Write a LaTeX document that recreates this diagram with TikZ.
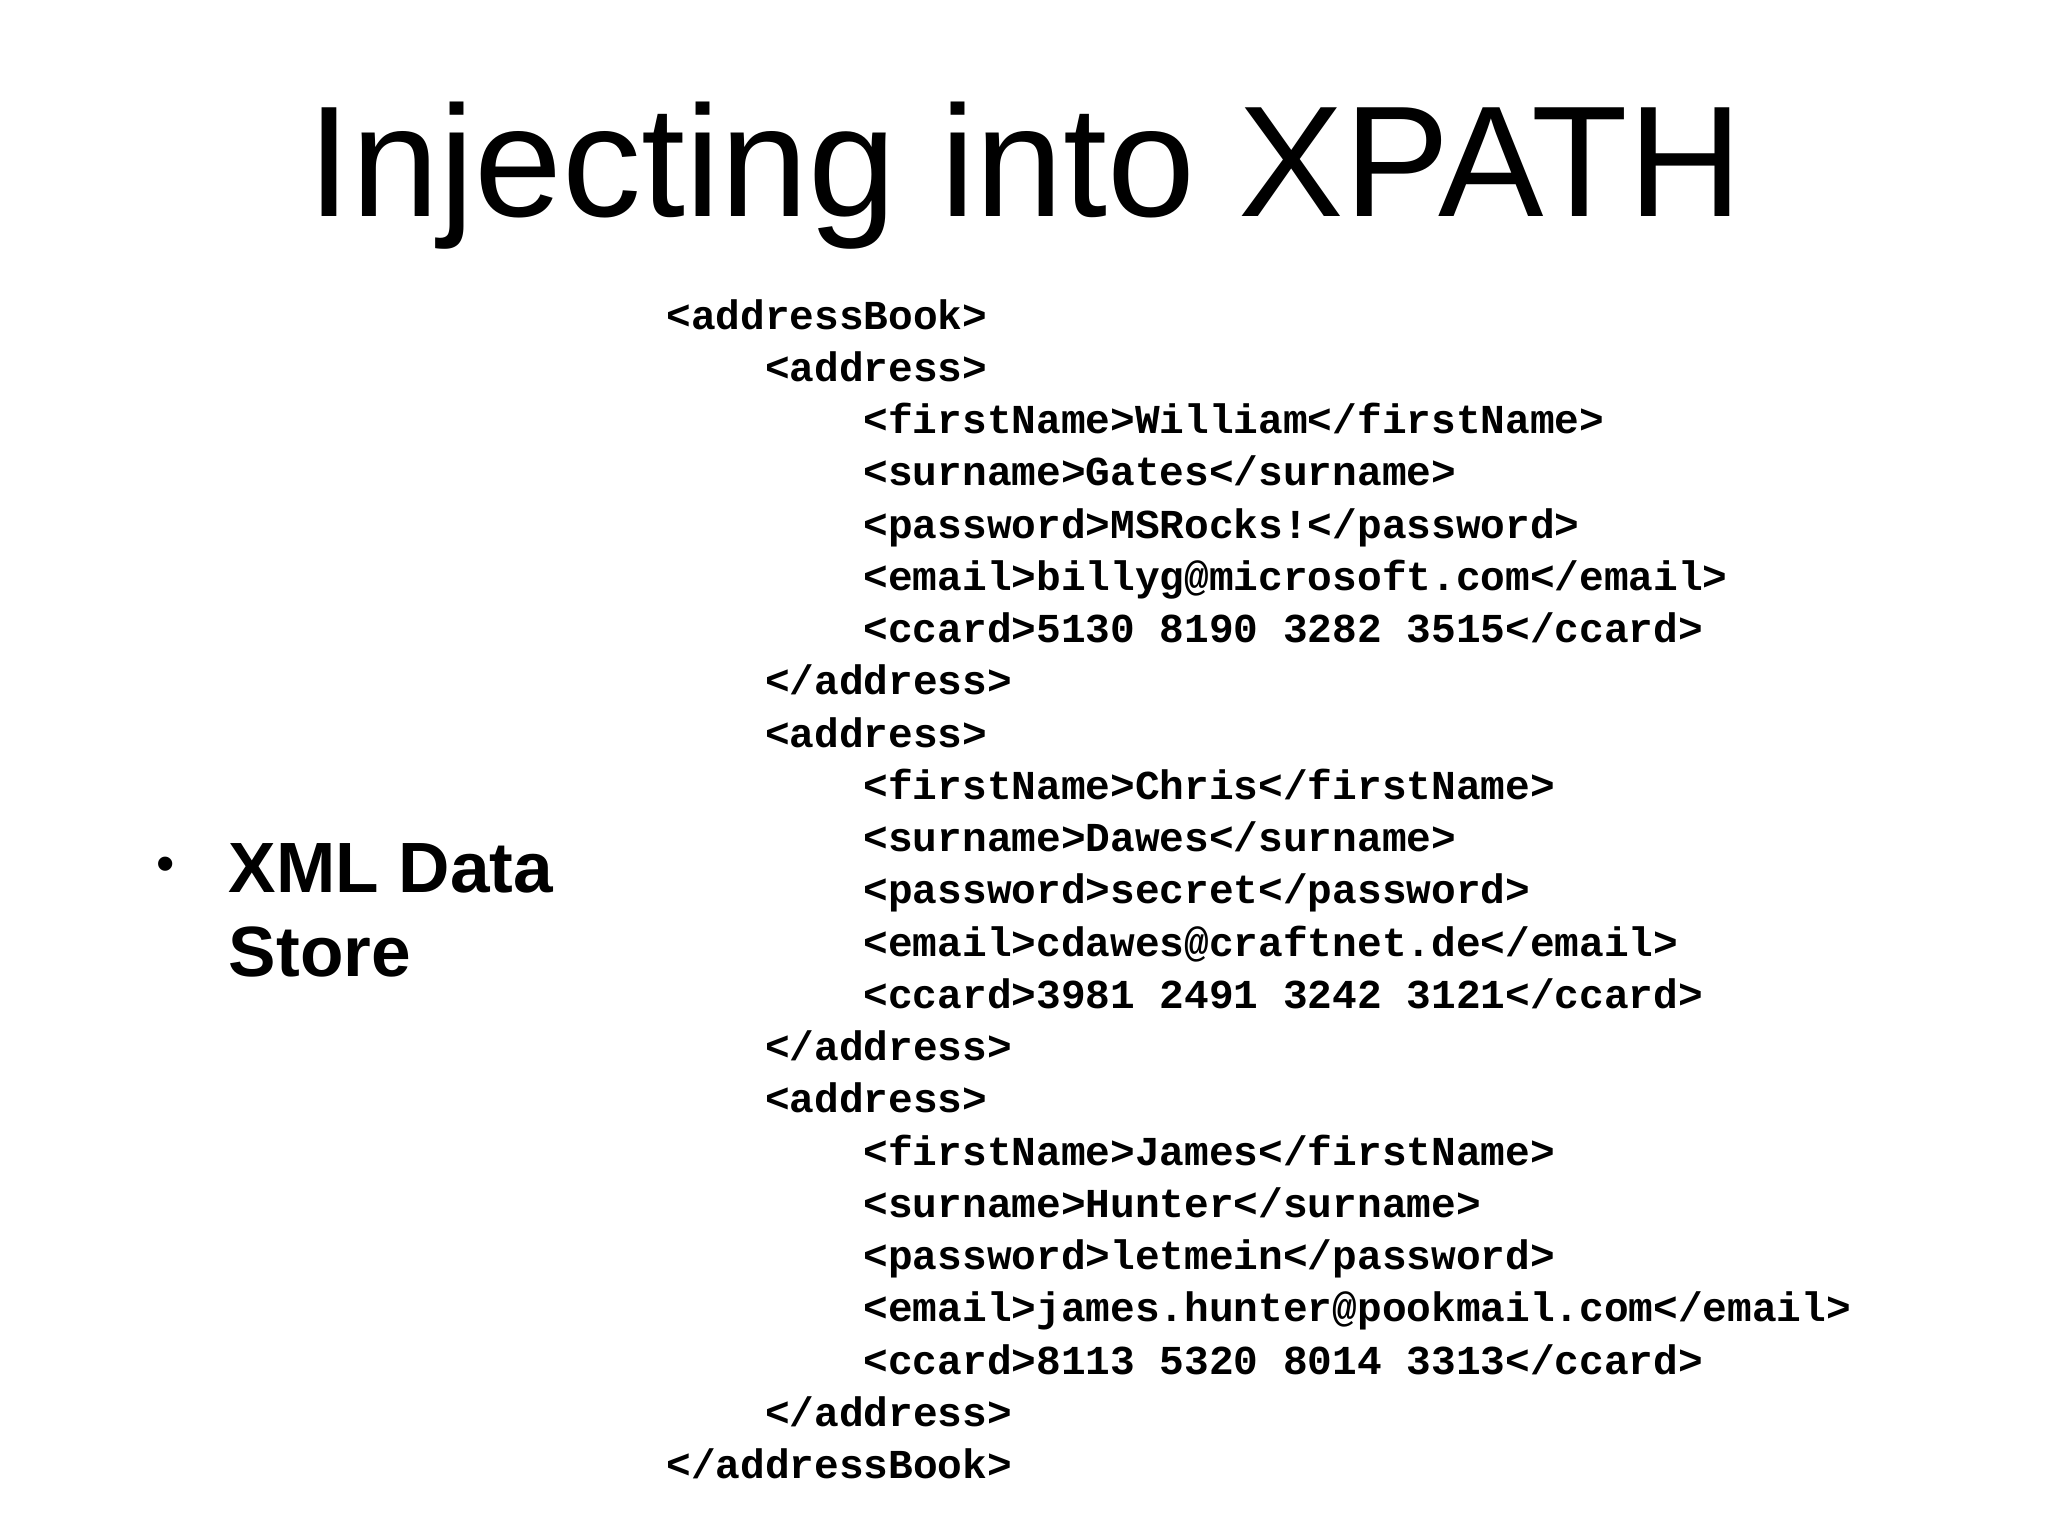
\documentclass[tikz,border=0pt]{standalone}
\usepackage{fontspec}
\setmainfont{Liberation Sans}
\newfontfamily\codefont{Liberation Mono}
\begin{document}
\begin{tikzpicture}[x=1pt,y=-1pt,
  code/.style={anchor=base west,inner sep=0pt,font=\codefont\bfseries\fontsize{31.5}{31.5}\selectfont}]
\useasboundingbox[fill=white] (0,0) rectangle (1568,1176);
\node[anchor=base,inner sep=0pt,font=\fontsize{121}{121}\selectfont] (title) at (785,166) {Injecting into XPATH};
\node[anchor=base west,inner sep=0pt,font=\fontsize{40}{40}\selectfont] (bul) at (120,675) {•};
\node[anchor=base west,inner sep=0pt,font=\bfseries\fontsize{54.5}{54.5}\selectfont] (b1) at (175,683) {XML Data};
\node[anchor=base west,inner sep=0pt,font=\bfseries\fontsize{54.5}{54.5}\selectfont] (b2) at (175,748) {Store};
\foreach \i/\ind/\t in {
0/0/{<addressBook>},
1/1/{<address>},
2/2/{<firstName>William</firstName>},
3/2/{<surname>Gates</surname>},
4/2/{<password>MSRocks!</password>},
5/2/{<email>billyg@microsoft.com</email>},
6/2/{<ccard>5130 8190 3282 3515</ccard>},
7/1/{</address>},
8/1/{<address>},
9/2/{<firstName>Chris</firstName>},
10/2/{<surname>Dawes</surname>},
11/2/{<password>secret</password>},
12/2/{<email>cdawes@craftnet.de</email>},
13/2/{<ccard>3981 2491 3242 3121</ccard>},
14/1/{</address>},
15/1/{<address>},
16/2/{<firstName>James</firstName>},
17/2/{<surname>Hunter</surname>},
18/2/{<password>letmein</password>},
19/2/{<email>james.hunter@pookmail.com</email>},
20/2/{<ccard>8113 5320 8014 3313</ccard>},
21/1/{</address>},
22/0/{</addressBook>}}{
  \node[code] (l\i) at ({510+75.5*\ind},{252+40*\i}) {\t};
}
\end{tikzpicture}
\end{document}
